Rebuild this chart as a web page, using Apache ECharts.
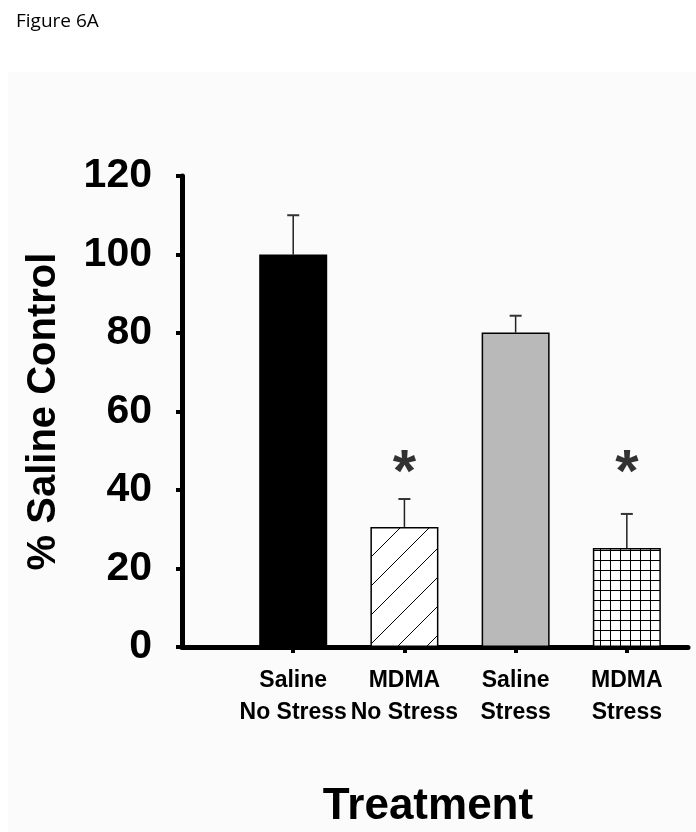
<!DOCTYPE html>
<html>
<head>
<meta charset="utf-8">
<script src="https://cdn.jsdelivr.net/npm/echarts@6/dist/echarts.min.js"></script>
<style>
html,body{margin:0;padding:0;background:#fff;}
#c{width:696px;height:832px;}
</style>
</head>
<body>
<div id="c"></div>
<script>
// ---- data ----
const categories = ['Saline\nNo Stress', 'MDMA\nNo Stress', 'Saline\nStress', 'MDMA\nStress'];
const means = [100, 30.6, 80.1, 25.2];
const errUpper = [110, 37.7, 84.4, 33.9];
const sigMarks = ['', '*', '', '*'];
const sigLevel = 47;
const yTicks = [0, 20, 40, 60, 80, 100, 120];

// ---- patterns ----
function hatchPattern() {
  const s = 29;
  const c = document.createElement('canvas');
  c.width = s; c.height = s;
  const g = c.getContext('2d');
  g.fillStyle = '#fff'; g.fillRect(0, 0, s, s);
  g.strokeStyle = '#000'; g.lineWidth = 1;
  g.beginPath();
  g.moveTo(-2, s + 2); g.lineTo(s + 2, -2);
  g.moveTo(-2, 2); g.lineTo(2, -2);
  g.moveTo(s - 2, s + 2); g.lineTo(s + 2, s - 2);
  g.stroke();
  return c;
}
function gridPattern() {
  const s = 10;
  const c = document.createElement('canvas');
  c.width = s; c.height = s;
  const g = c.getContext('2d');
  g.fillStyle = '#fff'; g.fillRect(0, 0, s, s);
  g.strokeStyle = '#000'; g.lineWidth = 1;
  g.beginPath();
  g.moveTo(0.5, 0); g.lineTo(0.5, s);
  g.moveTo(0, 0.5); g.lineTo(s, 0.5);
  g.stroke();
  return c;
}
const fills = [
  '#000000',
  { image: hatchPattern(), repeat: 'repeat' },
  '#b9b9b9',
  { image: gridPattern(), repeat: 'repeat' }
];

const barData = means.map((v, i) => ({
  value: [i + 1, v],
  itemStyle: { color: fills[i], borderColor: '#000', borderWidth: 1.5 }
}));
const errData = means.map((v, i) => [i + 1, v, errUpper[i]]);
const sigData = sigMarks.map((m, i) => m ? { value: [i + 1, sigLevel], mark: m } : null).filter(Boolean);

const FONT = '"Liberation Sans", Arial, Helvetica, sans-serif';

const chart = echarts.init(document.getElementById('c'), null, { renderer: 'canvas' });
chart.setOption({
  animation: false,
  backgroundColor: '#ffffff',
  title: {
    text: 'Figure 6A',
    left: 11, top: 7,
    textStyle: { fontFamily: '"Open Sans", "Noto Sans", sans-serif', fontWeight: 'normal', fontSize: 19, color: '#000' }
  },
  graphic: [{
    type: 'rect', z: -10, silent: true,
    shape: { x: 8, y: 72, width: 688, height: 760 },
    style: { fill: '#fbfbfb' }
  }],
  grid: { left: 182, right: 8, top: 176, bottom: 185, containLabel: false, outerBoundsMode: 'none' },
  xAxis: {
    type: 'value',
    min: 0, max: 4.55,
    splitLine: { show: false },
    axisLine: { show: true, onZero: false, lineStyle: { color: '#000', width: 5, cap: 'round' } },
    axisTick: { show: true, customValues: [1, 2, 3, 4], length: 6, inside: false, lineStyle: { color: '#000', width: 4 } },
    axisLabel: {
      customValues: [1, 2, 3, 4],
      hideOverlap: false,
      showMinLabel: true,
      showMaxLabel: true,
      formatter: v => categories[Math.round(v) - 1] || '',
      fontFamily: FONT, fontWeight: 'bold', fontSize: 23, lineHeight: 32, color: '#000', margin: 18
    },
    name: 'Treatment',
    nameLocation: 'middle',
    nameGap: 138,
    nameTextStyle: { fontFamily: FONT, fontWeight: 'bold', fontSize: 44, color: '#000', padding: [0, 14, 0, 0] }
  },
  yAxis: {
    type: 'value',
    min: 0, max: 120, interval: 20,
    splitLine: { show: false },
    axisLine: { show: true, lineStyle: { color: '#000', width: 5, cap: 'round' } },
    axisTick: { show: true, length: 6, inside: false, lineStyle: { color: '#000', width: 4 } },
    axisLabel: {
      formatter: v => yTicks.indexOf(v) >= 0 ? String(v) : '',
      fontFamily: FONT, fontWeight: 'bold', fontSize: 41, color: '#000', margin: 30
    },
    name: '% Saline Control',
    nameLocation: 'middle',
    nameGap: 118,
    nameRotate: 90,
    nameTextStyle: { fontFamily: FONT, fontWeight: 'bold', fontSize: 40, color: '#000' }
  },
  series: [
    {
      type: 'custom',
      z: 1,
      data: errData,
      renderItem: function (params, api) {
        const x = api.value(0);
        const base = api.coord([x, api.value(1)]);
        const top = api.coord([x, api.value(2)]);
        const hw = 6;
        return {
          type: 'group',
          children: [
            { type: 'line', shape: { x1: base[0], y1: base[1], x2: top[0], y2: top[1] }, style: { stroke: '#222', lineWidth: 1.5 } },
            { type: 'line', shape: { x1: top[0] - hw, y1: top[1], x2: top[0] + hw, y2: top[1] }, style: { stroke: '#333', lineWidth: 2 } }
          ]
        };
      }
    },
    {
      type: 'bar',
      z: 3,
      barWidth: 68,
      data: barData
    },
    {
      type: 'scatter',
      z: 4,
      symbolSize: 1,
      itemStyle: { color: 'rgba(0,0,0,0)' },
      data: sigData,
      label: {
        show: true,
        position: 'inside',
        formatter: p => p.data.mark,
        fontFamily: FONT, fontWeight: 'bold', fontSize: 60, color: '#000',
        offset: [0, 12]
      }
    }
  ]
});
</script>
</body>
</html>
